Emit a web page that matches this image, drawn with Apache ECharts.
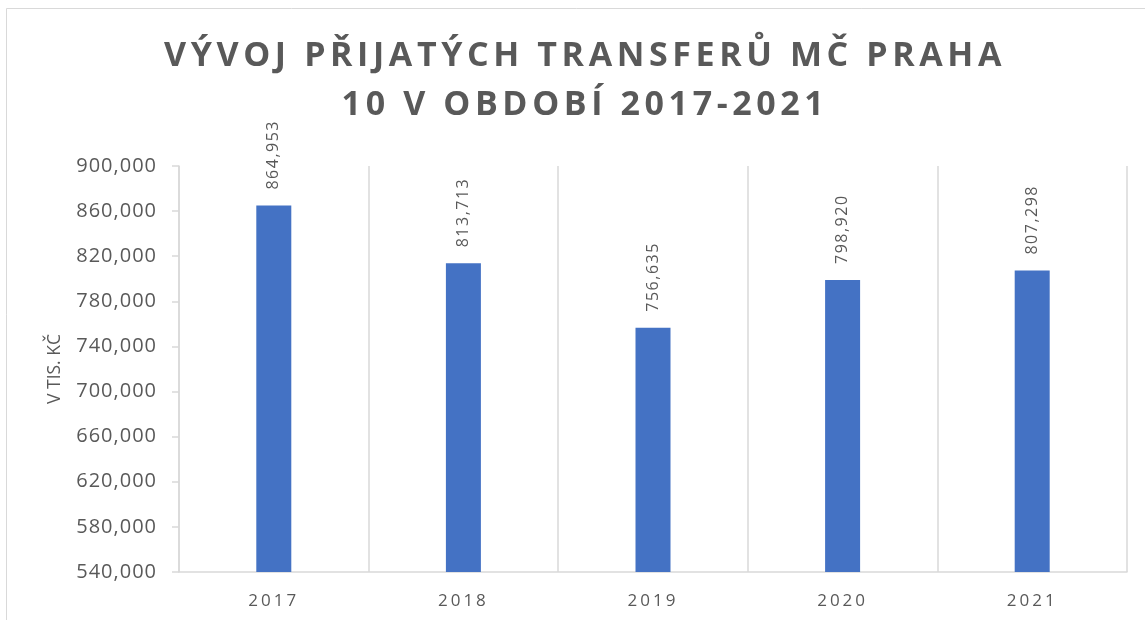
<!DOCTYPE html>
<html>
<head>
<meta charset="utf-8">
<style>
html, body { margin: 0; padding: 0; background: #fff; }
#main { width: 1145px; height: 620px; }
</style>
<script src="https://cdn.jsdelivr.net/npm/echarts@6/dist/echarts.min.js"></script>
</head>
<body>
<div id="main"></div>
<script>
// data
const years = ['2017', '2018', '2019', '2020', '2021']
const transfers = [864953, 813713, 756635, 798920, 807298]
const yMin = 540000
const yMax = 900000
const yStep = 40000

// Excel-style letter spacing, keyed on the font size each text uses
const spacingBySize = { '34px': '4.6px', '20px': '1px', '17px': '3px', '16px': '1.5px' }
function applySpacing(ctx) {
    const m = /(\d+(?:\.\d+)?px)/.exec(ctx.font)
    ctx.letterSpacing = (m && spacingBySize[m[1]]) || '0px'
}
const proto = CanvasRenderingContext2D.prototype
const origFill = proto.fillText
const origMeasure = proto.measureText
proto.fillText = function () { applySpacing(this); return origFill.apply(this, arguments) }
proto.measureText = function () { applySpacing(this); return origMeasure.apply(this, arguments) }

const grey = '#595959'
const lineGrey = '#d9d9d9'
const font = 'Open Sans'

let myChart = echarts.init(document.getElementById('main'))
myChart.setOption({
    backgroundColor: '#fff',
    animation: false,
    title: {
        text: 'VÝVOJ PŘIJATÝCH TRANSFERŮ MČ PRAHA\n10 V OBDOBÍ 2017-2021',
        left: 580,
        top: 27,
        textAlign: 'center',
        textStyle: {
            color: grey,
            fontFamily: font,
            fontWeight: 'bold',
            fontSize: 34,
            lineHeight: 49
        }
    },
    graphic: [{
        type: 'rect',
        shape: { x: 6.5, y: 8.5, width: 1200, height: 700 },
        style: { fill: 'none', stroke: lineGrey, lineWidth: 1 },
        silent: true
    }],
    grid: {
        left: 179,
        right: 18,
        top: 166,
        bottom: 48
    },
    xAxis: {
        type: 'category',
        data: years,
        axisLine: { lineStyle: { color: lineGrey, width: 1.5 } },
        axisTick: { show: false },
        splitLine: { show: true, lineStyle: { color: lineGrey, width: 1.5 } },
        axisLabel: {
            color: grey,
            fontFamily: font,
            fontSize: 17,
            margin: 19
        }
    },
    yAxis: {
        type: 'value',
        min: yMin,
        max: yMax,
        interval: yStep,
        name: 'V TIS. KČ',
        nameLocation: 'middle',
        nameRotate: 90,
        nameGap: 115,
        nameTextStyle: { color: grey, fontFamily: font, fontSize: 17.5 },
        axisLine: { show: true, lineStyle: { color: lineGrey, width: 1.5 } },
        axisTick: { show: true, length: 7, lineStyle: { color: lineGrey, width: 1.5 } },
        splitLine: { show: false },
        axisLabel: {
            color: grey,
            fontFamily: font,
            fontSize: 20,
            margin: 22,
            formatter: function (v) { return v.toLocaleString('en-US') }
        }
    },
    series: [{
        type: 'bar',
        data: transfers,
        barWidth: 35,
        itemStyle: { color: '#4472C4' },
        label: {
            show: true,
            position: 'top',
            distance: 16,
            rotate: 90,
            align: 'left',
            verticalAlign: 'middle',
            color: grey,
            fontFamily: font,
            fontSize: 16,
            formatter: function (p) { return p.value.toLocaleString('en-US') }
        }
    }]
})
</script>
</body>
</html>
